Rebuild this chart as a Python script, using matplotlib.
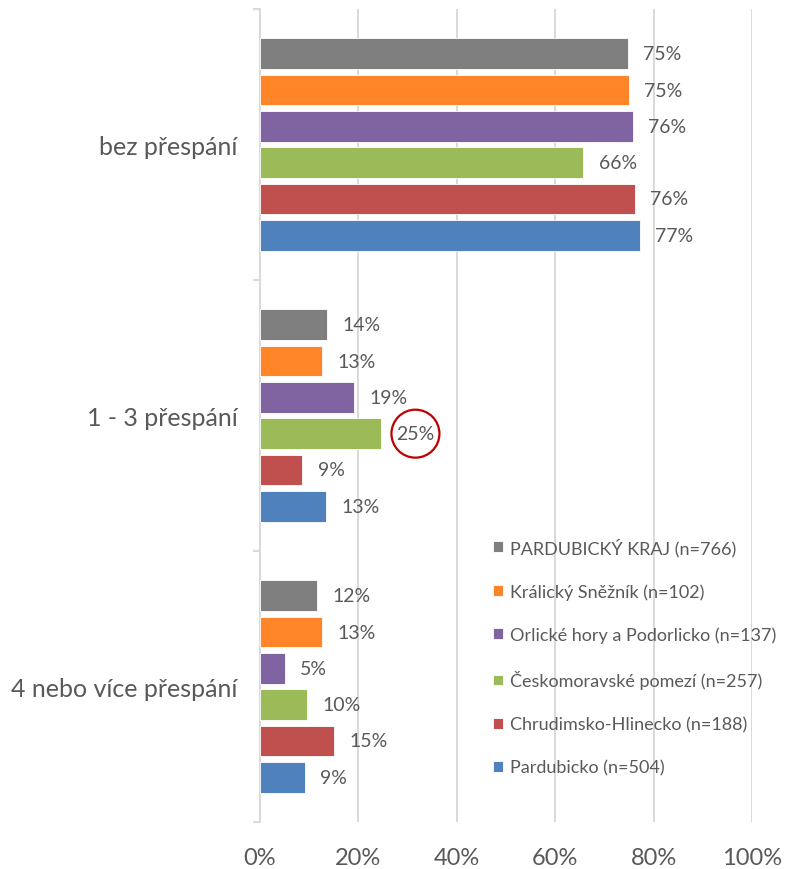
import numpy as np
import matplotlib.pyplot as plt

plt.rcParams['font.family'] = ['Lato', 'DejaVu Sans']

# data
categories = ['bez přespání', '1 - 3 přespání', '4 nebo více přespání']
series = ['PARDUBICKÝ KRAJ (n=766)', 'Králický Sněžník (n=102)',
          'Orlické hory a Podorlicko (n=137)', 'Českomoravské pomezí (n=257)',
          'Chrudimsko-Hlinecko (n=188)', 'Pardubicko (n=504)']
colors = ['#7F7F7F', '#FF8528', '#8064A2', '#9BBB59', '#C0504D', '#4F81BD']
values = [
    [74.8, 75.0, 75.8, 65.7, 76.2, 77.2],   # PARDUBICKÝ KRAJ ... Pardubicko
    [13.6, 12.6, 19.1, 24.6, 8.6, 13.4],
    [11.6, 12.6, 5.1, 9.5, 15.0, 9.1],
]
values = np.array(values)
xticks = [0, 20, 40, 60, 80, 100]

fig = plt.figure(figsize=(7.98, 8.7), dpi=100)
ax = fig.add_axes([0.3258, 0.054, 0.6166, 0.9345])

pitch = 0.134
height = 0.114
text_col = '#595959'

for j, name in enumerate(series):
    y = np.arange(len(categories)) + (j - 2.5) * pitch
    ax.barh(y, values[:, j], height=height, color=colors[j], edgecolor='white',
            linewidth=0.6, label=name, zorder=3)
    for i, v in enumerate(values[:, j]):
        lab = '%d%%' % round(v)
        if i == 1 and j == 3:
            # zvýrazněná hodnota v kroužku
            ax.annotate(lab, (v, y[i]), xytext=(11, 0), textcoords='offset points',
                        ha='left', va='center', fontsize=14, color=text_col,
                        bbox=dict(boxstyle='circle,pad=0.25', fc='none',
                                  ec='#C00000', lw=1.6))
        else:
            ax.annotate(lab, (v, y[i]), xytext=(11, 0), textcoords='offset points',
                        ha='left', va='center', fontsize=14, color=text_col)

ax.set_xlim(0, 100)
ax.set_ylim(2.5, -0.5)
ax.set_xticks(xticks)
ax.set_xticklabels(['%d%%' % t for t in xticks], fontsize=17, color=text_col)
ax.tick_params(axis='x', length=0, pad=18)
ax.grid(axis='x', color='#D9D9D9', lw=1.4, zorder=0)

ax.set_yticks([-0.5, 0.5, 1.5, 2.5])
ax.set_yticklabels([])
ax.tick_params(axis='y', which='major', length=5, color='#D9D9D9', width=1.4)
ax.set_yticks([0, 1, 2], minor=True)
ax.set_yticklabels(categories, minor=True, fontsize=18, color=text_col)
ax.tick_params(axis='y', which='minor', length=0, pad=16)

for s in ['top', 'right', 'bottom']:
    ax.spines[s].set_visible(False)
ax.spines['left'].set_color('#D9D9D9')
ax.spines['left'].set_linewidth(1.4)

leg = ax.legend(loc='upper left', bbox_to_anchor=(0.44, 0.37), frameon=False,
                fontsize=13, handlelength=0.55, handleheight=0.55,
                handletextpad=0.4, labelspacing=1.5, labelcolor=text_col)
leg.set_zorder(5)

fig.savefig('out.png', dpi=100)
